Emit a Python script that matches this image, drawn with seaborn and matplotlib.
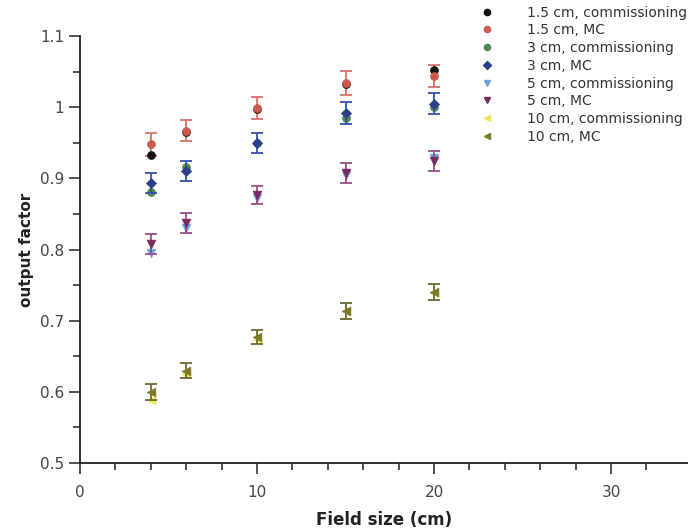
import matplotlib
matplotlib.use("Agg")
import matplotlib.pyplot as plt
import seaborn as sns
import numpy as np
import pandas as pd

field_size = [4, 6, 10, 15, 20]

of_15_comm = [0.933, 0.965, 0.998, 1.032, 1.053]
of_15_mc = [0.948, 0.967, 0.999, 1.034, 1.044]
of_3_comm = [0.881, 0.916, 0.950, 0.985, 1.000]
of_3_mc = [0.893, 0.910, 0.950, 0.992, 1.005]
of_5_comm = [0.795, 0.830, 0.873, 0.905, 0.928]
of_5_mc = [0.808, 0.837, 0.877, 0.908, 0.924]
of_10_comm = [0.588, 0.625, 0.674, 0.713, 0.739]
of_10_mc = [0.600, 0.630, 0.677, 0.714, 0.740]

err_15_mc = [0.016, 0.015, 0.016, 0.017, 0.015]
err_3_mc = [0.014, 0.014, 0.014, 0.015, 0.015]
err_5_mc = [0.014, 0.014, 0.013, 0.014, 0.014]
err_10_mc = [0.011, 0.010, 0.010, 0.011, 0.011]

labels = ["1.5 cm, commissioning", "1.5 cm, MC", "3 cm, commissioning", "3 cm, MC",
          "5 cm, commissioning", "5 cm, MC", "10 cm, commissioning", "10 cm, MC"]

sns.set_style("ticks")
plt.rcParams['font.family'] = ['DejaVu Sans']

fig = plt.figure(figsize=(6.88, 5.31), dpi=100)
ax = fig.add_axes([0.1163, 0.128, 0.8837, 0.804])

series = [
    (of_15_comm, None, "#111111", "o", 5),
    (of_15_mc, err_15_mc, "#cc5a4e", "o", 5),
    (of_3_comm, None, "#4f8a4f", "o", 5),
    (of_3_mc, err_3_mc, "#2b3f8c", "D", 4.5),
    (of_5_comm, None, "#6aa6dd", "v", 5.5),
    (of_5_mc, err_5_mc, "#7a2a5e", "v", 5.5),
    (of_10_comm, None, "#eaea55", "<", 5.5),
    (of_10_mc, err_10_mc, "#7a7a28", "<", 5.5),
]

err_colors = {1: "#d9726a", 3: "#3550b0", 5: "#9a4f8a", 7: "#6a6a30"}

handles = []
zorders = [5.5, 6, 3, 5, 3, 5, 3, 5]
for i, (vals, err, col, mk, ms) in enumerate(series):
    df = pd.DataFrame({"x": field_size, "y": vals})
    if err is not None:
        ax.errorbar(df["x"], df["y"], yerr=err, fmt="none", ecolor=err_colors[i],
                    elinewidth=1.3, capsize=4, capthick=1.3, zorder=zorders[i] - 1)
    sns.scatterplot(data=df, x="x", y="y", ax=ax, color=col, marker=mk,
                    s=ms ** 2 * 1.3, edgecolor=col, linewidth=0.5, zorder=zorders[i],
                    legend=False)
    h, = ax.plot([], [], linestyle="none", marker=mk, color=col, markersize=ms - 0.5,
                 markeredgecolor=col)
    handles.append(h)

ax.set_xlim(0, 34.35)
ax.set_ylim(0.5, 1.1)
ax.set_xticks([0, 10, 20, 30])
ax.set_xticks(np.arange(2, 34, 2), minor=True)
ax.set_yticks([0.5, 0.6, 0.7, 0.8, 0.9, 1.0, 1.1])
ax.set_yticklabels(["0.5", "0.6", "0.7", "0.8", "0.9", "1", "1.1"])
ax.set_yticks(np.arange(0.55, 1.1, 0.1), minor=True)

ax.tick_params(axis="both", which="major", length=8, width=1.2, colors="#333333",
               labelsize=11, labelcolor="#444444", direction="out")
ax.tick_params(axis="both", which="minor", length=5, width=1.2, colors="#333333",
               direction="out")
ax.tick_params(axis="x", pad=8)

for s in ["top", "right"]:
    ax.spines[s].set_visible(False)
for s in ["left", "bottom"]:
    ax.spines[s].set_linewidth(1.3)
    ax.spines[s].set_color("#222222")

ax.set_xlabel("Field size (cm)", fontsize=12, fontweight="bold", color="#222222", labelpad=8)
ax.set_ylabel("output factor", fontsize=11, fontweight="bold", color="#222222", labelpad=4)

fig.legend(handles, labels, loc="upper left", bbox_to_anchor=(0.685, 1.0), frameon=False,
           fontsize=10, handletextpad=2.1, labelspacing=0.27, handlelength=1.5,
           borderaxespad=0.0, borderpad=0.4, labelcolor="#333333")

fig.savefig("out.png", dpi=100)
